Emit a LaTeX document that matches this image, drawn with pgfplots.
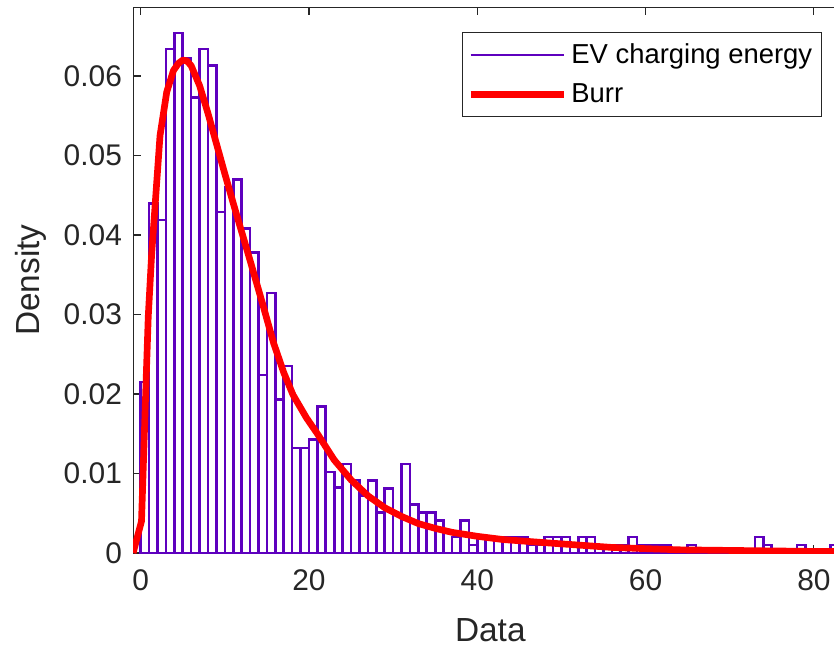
\documentclass[border=0pt]{standalone}
\usepackage{fontspec}
\setmainfont{Liberation Sans}
\usepackage{pgfplots}
\pgfplotsset{compat=1.18}
\definecolor{histc}{RGB}{94,0,190}
\definecolor{axc}{RGB}{38,38,38}
\begin{document}
\begin{tikzpicture}
\useasboundingbox (-2.662,-1.86) rectangle (14.018,11.06);
\clip (-2.662,-1.86) rectangle (14.018,11.06);
\begin{axis}[
  at={(0,0)}, anchor=south west,
  scale only axis, width=14.289cm, height=10.914cm,
  xmin=-0.9, xmax=84, ymin=0, ymax=0.06864,
  xtick={0,20,40,60,80}, xticklabels={0,20,40,60,80},
  ytick={0,0.01,0.02,0.03,0.04,0.05,0.06},
  yticklabels={0,0.01,0.02,0.03,0.04,0.05,0.06},
  scaled y ticks=false,
  tick align=inside, major tick length=0.154cm,
  axis line style={axc, line width=0.6pt},
  every tick/.style={axc, line width=0.6pt},
  tick label style={font=\fontsize{17}{20}\selectfont, text=axc},
  xticklabel style={yshift=-0.2cm},
  yticklabel style={xshift=-0.1cm},
  label style={font=\fontsize{19}{22}\selectfont, text=axc},
  xlabel={Data}, ylabel={Density},
  xlabel style={at={(axis description cs:0.5,-0.1411)}, anchor=center},
  ylabel style={at={(axis description cs:-0.1428,0.5)}, anchor=center},
  legend style={at={(axis description cs:0.9639,0.9553)}, anchor=north east,
    draw=axc, line width=0.6pt, fill=white,
    font=\fontsize{15.6}{18}\selectfont,
    inner xsep=0.09cm, inner ysep=0.14cm,
    nodes={inner xsep=0.09cm, inner ysep=0.09cm},
    row sep=0.17cm,
    cells={anchor=west}},
  legend cell align=left,
]
\addplot[ybar interval, draw=histc, fill=none, line width=1.5pt,
  legend image code/.code={\draw[histc, line width=1.2pt] (0cm,0cm) -- (1.86cm,0cm);}]
coordinates {
(0,0.0215) (1,0.0440) (2,0.0419) (3,0.0634) (4,0.0654) (5,0.0622) (6,0.0573) (7,0.0634)
(8,0.0613) (9,0.0429) (10,0.0460) (11,0.0470) (12,0.0408) (13,0.0378) (14,0.0224) (15,0.0327)
(16,0.0193) (17,0.0235) (18,0.0132) (19,0.0132) (20,0.0143) (21,0.0184) (22,0.0102) (23,0.0082)
(24,0.0112) (25,0.0092) (26,0.0072) (27,0.0091) (28,0.0051) (29,0.0081) (30,0.0050) (31,0.0112)
(32,0.0061) (33,0.0051) (34,0.0051) (35,0.0041) (36,0) (37,0.0020) (38,0.0041) (39,0.0010)
(40,0.0020) (41,0.0020) (42,0.0020) (43,0.0020) (44,0.0020) (45,0.0020) (46,0.0010) (47,0.0010)
(48,0.0020) (49,0.0020) (50,0.0020) (51,0.0010) (52,0.0020) (53,0.0020) (54,0.0010) (55,0.0010)
(56,0.0010) (57,0.0010) (58,0.0020) (59,0.0010) (60,0.0010) (61,0.0010) (62,0.0010) (63,0)
(64,0) (65,0.0010) (66,0) (67,0) (68,0) (69,0) (70,0) (71,0) (72,0) (73,0.0020) (74,0.0010)
(75,0) (76,0) (77,0) (78,0.0010) (79,0) (80,0) (81,0) (82,0.0010) (83,0) (84,0)
};
\addlegendentry{EV charging energy}
\addplot[red, line width=3.8pt, line join=round,
  legend image code/.code={\draw[red, line width=3.8pt] (0cm,0cm) -- (1.86cm,0cm);}]
coordinates {
(-0.9,0) (0.1,0.0040) (0.5,0.0170) (0.9,0.0297) (1.3,0.0375) (2.3,0.0525) (3.1,0.0580)
(3.9,0.0607) (4.5,0.0616) (5.0,0.0620) (5.5,0.0619) (6.0,0.0613) (7.0,0.0588) (8.0,0.0553)
(9.0,0.0515) (10.0,0.0477) (11.0,0.0440) (12.0,0.0404) (13.0,0.0368) (14.5,0.0313)
(15.8,0.0264) (17.0,0.0227) (18.1,0.0199) (19.7,0.0170) (21.0,0.0150) (23.0,0.0117)
(25.0,0.0092) (27.0,0.0072) (29.0,0.0057) (31.0,0.0046) (33.0,0.0037) (35.0,0.0031)
(37.0,0.0026) (40.0,0.0021) (43.0,0.0017) (48.0,0.0013) (56.0,0.0007) (64.0,0.0004)
(72.0,0.0003) (80.0,0.0002) (86.0,0.0002)
};
\addlegendentry{Burr}
\end{axis}
\end{tikzpicture}
\end{document}
